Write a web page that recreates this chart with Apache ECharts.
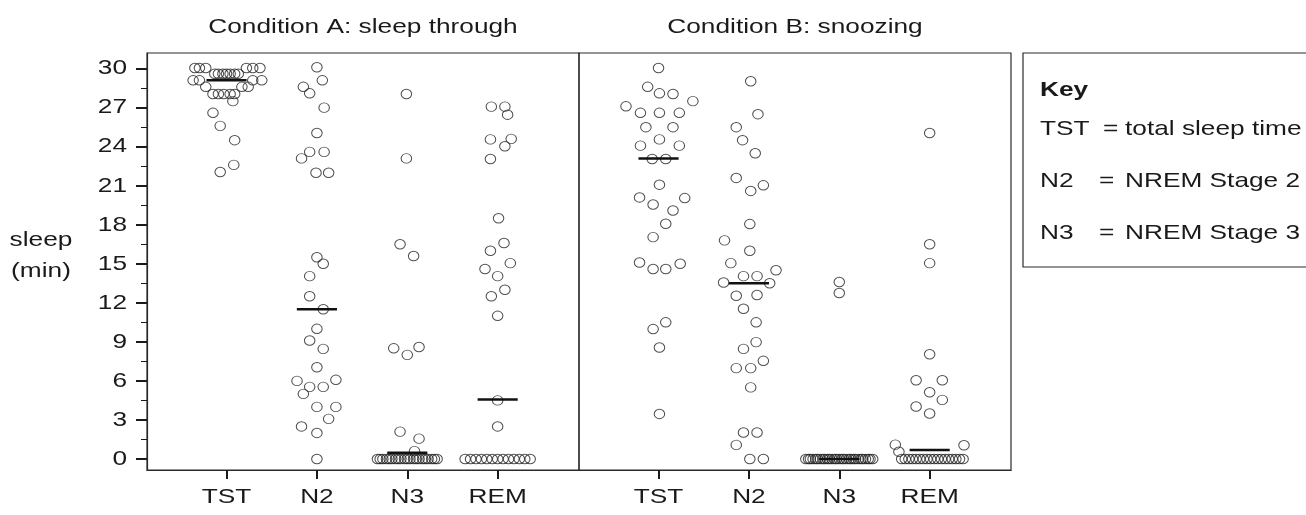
<!DOCTYPE html>
<html>
<head>
<meta charset="utf-8">
<script src="https://cdn.jsdelivr.net/npm/echarts@6/dist/echarts.min.js"></script>
<style>
html,body{margin:0;padding:0;background:#fff;}
#chart{width:1306px;height:515px;}
</style>
</head>
<body>
<div id="chart"></div>
<script>
// ---------------- DATA ----------------
const categories = ['TST', 'N2', 'N3', 'REM'];
const panelTitles = ['Condition A: sleep through', 'Condition B: snoozing'];
const yMajorTicks = [0, 3, 6, 9, 12, 15, 18, 21, 24, 27, 30];
const yMinorTicks = [1.5, 4.5, 7.5, 10.5, 13.5, 16.5, 19.5, 22.5, 25.5, 28.5];
const yAxisName = ['sleep', '(min)'];
const keyTitle = 'Key';
const keyAbbr = ['TST', 'N2', 'N3'];
const keyMeaning = ['total sleep time', 'NREM Stage 2', 'NREM Stage 3'];

// Condition A (sleep through): values (min) and horizontal jitter (category units)
const aTST = [30.05, 30.05, 30.05, 30.05, 30.05, 30.05,
  29.6, 29.6, 29.6, 29.6, 29.6, 29.6, 29.6,
  29.1, 29.1, 29.1, 29.1,
  28.6, 28.6, 28.6,
  28.05, 28.05, 28.05, 28.05, 28.05,
  27.5, 26.6, 25.6, 24.5, 22.6, 22.05];
const aTSTJit = [-0.35, -0.30, -0.23, 0.22, 0.29, 0.37,
  -0.13, -0.09, -0.04, 0, 0.04, 0.09, 0.13,
  -0.37, -0.30, 0.29, 0.39,
  -0.23, 0.17, 0.24,
  -0.15, -0.09, -0.03, 0.04, 0.09,
  0.07, -0.15, -0.07, 0.09, 0.08, -0.07];

const aN2 = [30.1, 29.1, 28.6, 28.1, 27.0, 25.05, 23.6, 23.6, 23.1, 22.0, 22.0,
  15.5, 15.0, 14.05, 12.5, 11.5, 10.0, 9.1, 8.46, 7.05, 6.0, 6.08, 5.54, 5.54,
  5.0, 4.0, 4.0, 3.08, 2.5, 2.0, 0];
const aN2Jit = [0, 0.06, -0.15, -0.08, 0.08, 0, -0.08, 0.08, -0.17, -0.01, 0.13,
  0, 0.07, -0.08, -0.08, 0.07, 0, -0.08, 0.07, 0, -0.22, 0.21, -0.08, 0.07,
  -0.15, 0, 0.21, 0.13, -0.17, 0, 0];

const aN3 = [28.05, 23.1, 16.5, 15.6, 8.5, 8.0, 8.6, 2.1, 1.56, 0.6,
  0, 0, 0, 0, 0, 0, 0, 0, 0, 0, 0, 0, 0, 0, 0, 0, 0, 0, 0, 0, 0];
const aN3Jit = [-0.01, -0.01, -0.08, 0.07, -0.15, 0, 0.13, -0.08, 0.13, 0.08,
  -0.33, -0.30, -0.27, -0.23, -0.20, -0.17, -0.13, -0.10, -0.07, -0.03, 0,
  0.03, 0.07, 0.10, 0.13, 0.17, 0.20, 0.23, 0.27, 0.30, 0.33];

const aREM = [27.08, 27.08, 26.46, 24.56, 24.6, 24.03, 23.05, 18.5, 16.6, 16.0,
  15.05, 14.6, 14.05, 13.0, 12.5, 11.0, 4.5, 2.5,
  0, 0, 0, 0, 0, 0, 0, 0, 0, 0, 0, 0, 0];
const aREMJit = [-0.07, 0.08, 0.11, -0.08, 0.15, 0.08, -0.08, 0.01, 0.07, -0.08,
  0.14, -0.14, 0, 0.08, -0.07, 0, 0, 0,
  -0.36, -0.30, -0.24, -0.18, -0.12, -0.06, 0, 0.06, 0.12, 0.18, 0.24, 0.30, 0.36];

const aMedians = [29.1, 11.5, 0.48, 4.56];

// Condition B (snoozing)
const bTST = [30.05, 28.6, 28.1, 28.05, 27.5, 27.1, 26.6, 26.6, 26.6, 25.5, 25.5,
  24.56, 24.08, 24.08, 23.05, 23.05, 21.08, 20.1, 19.56, 20.05, 19.1, 18.08,
  17.05, 15.1, 14.6, 14.6, 15.0, 9.98, 10.5, 8.56, 3.46];
const bTSTJit = [0, -0.12, 0.01, 0.16, 0.38, -0.36, -0.20, 0.01, 0.23, -0.14, 0.16,
  0.01, -0.20, 0.23, -0.07, 0.08, 0.01, -0.21, -0.06, 0.29, 0.16, 0.08,
  -0.06, -0.21, -0.06, 0.08, 0.24, -0.06, 0.08, 0.01, 0.01];

const bN2 = [29.03, 26.5, 25.5, 24.5, 23.5, 21.6, 21.03, 20.6, 18.05, 16.8, 16.0,
  15.05, 14.5, 14.05, 14.05, 13.56, 13.5, 12.54, 12.6, 11.54, 10.5, 8.98, 8.46,
  7.54, 6.98, 6.98, 5.5, 2.03, 2.03, 1.08, 0, 0];
const bN2Jit = [0.02, 0.10, -0.14, -0.07, 0.07, -0.14, 0.16, 0.02, 0.01, -0.27, 0.01,
  -0.20, 0.30, -0.06, 0.09, -0.28, 0.23, -0.14, 0.09, -0.06, 0.08, 0.08, -0.06,
  0.16, -0.14, 0.02, 0.02, -0.06, 0.09, -0.14, 0.01, 0.16];

const bN3 = [13.6, 12.75,
  0, 0, 0, 0, 0, 0, 0, 0, 0, 0, 0, 0, 0, 0, 0, 0, 0, 0, 0, 0, 0, 0, 0, 0, 0, 0, 0, 0, 0];
const bN3Jit = [0, 0,
  -0.37, -0.34, -0.32, -0.29, -0.26, -0.24, -0.21, -0.18, -0.16, -0.13, -0.11, -0.08,
  -0.05, -0.03, 0, 0.03, 0.05, 0.08, 0.11, 0.13, 0.16, 0.18, 0.21, 0.24, 0.26, 0.29,
  0.32, 0.34, 0.37];

const bREM = [25.05, 16.5, 15.05, 8.05, 6.05, 6.05, 5.13, 4.54, 4.03, 3.49, 1.1, 0.56, 1.05,
  0, 0, 0, 0, 0, 0, 0, 0, 0, 0, 0, 0, 0, 0, 0, 0, 0, 0];
const bREMJit = [0, 0, 0, 0, -0.15, 0.14, 0, 0.14, -0.15, 0, -0.38, -0.34, 0.38,
  -0.31, -0.27, -0.23, -0.19, -0.15, -0.11, -0.07, -0.03, 0.01, 0.05, 0.09, 0.13,
  0.17, 0.21, 0.25, 0.29, 0.33, 0.37];

const bMedians = [23.1, 13.5, 0, 0.69];

// ---------------- BUILD ----------------
const FONT = "'Liberation Sans', Arial, sans-serif";
const FS = 21;          // font size
const SX = 1.25;        // horizontal text stretch seen in the reference
const TXT = '#1a1a1a';
const LINE = '#2a2a2a';
const X_MIN = 0.12, X_MAX = 4.9, Y_MIN = -0.85, Y_MAX = 31.2;

function buildPoints(valueSets, jitSets) {
  const pts = [];
  valueSets.forEach((vals, ci) => {
    vals.forEach((v, k) => pts.push([ci + 1 + jitSets[ci][k], v]));
  });
  return pts;
}
const ptsA = buildPoints([aTST, aN2, aN3, aREM], [aTSTJit, aN2Jit, aN3Jit, aREMJit]);
const ptsB = buildPoints([bTST, bN2, bN3, bREM], [bTSTJit, bN2Jit, bN3Jit, bREMJit]);
const medA = aMedians.map((m, i) => [i + 1, m]);
const medB = bMedians.map((m, i) => [i + 1, m]);
const catPositions = categories.map((c, i) => i + 1);

function xAxisFor(gi) {
  return {
    type: 'value', gridIndex: gi, min: X_MIN, max: X_MAX,
    axisLine: { show: true, onZero: false, lineStyle: { color: LINE, width: 1.2 } },
    axisTick: { show: true, customValues: catPositions, length: 9, inside: false,
      lineStyle: { color: TXT, width: 2 } },
    axisLabel: { show: false, customValues: catPositions,
      formatter: v => categories[Math.round(v) - 1] || '' },
    splitLine: { show: false }
  };
}

function medianRender(params, api) {
  const x = api.value(0), y = api.value(1);
  const p1 = api.coord([x - 0.222, y]);
  const p2 = api.coord([x + 0.222, y]);
  return { type: 'line', shape: { x1: p1[0], y1: p1[1], x2: p2[0], y2: p2[1] },
    style: { stroke: '#111', lineWidth: 2.5 } };
}

const scatterStyle = { color: 'rgba(0,0,0,0)', borderColor: '#222', borderWidth: 1 };

function txt(x, y, text, align, bold) {
  return { type: 'text', x: x, y: y, scaleX: SX,
    style: { text: text, font: (bold ? 'bold ' : '') + FS + 'px ' + FONT, fill: TXT,
      textAlign: align, textVerticalAlign: 'middle' } };
}

const option = {
  animation: false,
  backgroundColor: '#fff',
  grid: [
    { left: 147, top: 53, width: 432, height: 417, show: true, borderColor: LINE, borderWidth: 1.2, backgroundColor: 'transparent' },
    { left: 579, top: 53, width: 432, height: 417, show: true, borderColor: LINE, borderWidth: 1.2, backgroundColor: 'transparent' }
  ],
  xAxis: [xAxisFor(0), xAxisFor(1)],
  yAxis: [
    { type: 'value', gridIndex: 0, min: Y_MIN, max: Y_MAX, position: 'left',
      axisLine: { show: true, onZero: false, lineStyle: { color: LINE, width: 1.2 } },
      axisTick: { show: true, customValues: yMajorTicks, length: 11, lineStyle: { color: TXT, width: 2 } },
      axisLabel: { show: false, customValues: yMajorTicks },
      splitLine: { show: false } },
    { type: 'value', gridIndex: 0, min: Y_MIN, max: Y_MAX, position: 'left', offset: 0,
      axisLine: { show: false, onZero: false },
      axisTick: { show: true, customValues: yMinorTicks, length: 6, lineStyle: { color: TXT, width: 1 } },
      axisLabel: { show: false },
      splitLine: { show: false } },
    { type: 'value', gridIndex: 1, min: Y_MIN, max: Y_MAX, position: 'left',
      axisLine: { show: false, onZero: false }, axisTick: { show: false }, axisLabel: { show: false },
      splitLine: { show: false } }
  ],
  series: [
    { type: 'scatter', xAxisIndex: 0, yAxisIndex: 0, data: ptsA, symbol: 'circle', symbolSize: [10.5, 9.5], itemStyle: scatterStyle, z: 3 },
    { type: 'scatter', xAxisIndex: 1, yAxisIndex: 2, data: ptsB, symbol: 'circle', symbolSize: [10.5, 9.5], itemStyle: scatterStyle, z: 3 },
    { type: 'custom', xAxisIndex: 0, yAxisIndex: 0, data: medA, renderItem: medianRender, z: 4 },
    { type: 'custom', xAxisIndex: 1, yAxisIndex: 2, data: medB, renderItem: medianRender, z: 4 }
  ]
};

const chart = echarts.init(document.getElementById('chart'), null, { renderer: 'canvas' });
chart.setOption(option);

// Texts (tick labels placed through the axes' own scales)
const graphics = [
  txt(363, 27, panelTitles[0], 'center'),
  txt(795, 27, panelTitles[1], 'center'),
  txt(41, 240, yAxisName[0], 'center'),
  txt(41, 271, yAxisName[1], 'center'),
  { type: 'rect', shape: { x: 1023, y: 53, width: 320, height: 214 }, style: { fill: 'transparent', stroke: LINE, lineWidth: 1.2 } },
  txt(1040, 90, keyTitle, 'left', true),
  txt(1040, 129, keyAbbr[0], 'left'), txt(1103, 129, '=', 'left'), txt(1125, 129, keyMeaning[0], 'left'),
  txt(1040, 181, keyAbbr[1], 'left'), txt(1099, 181, '=', 'left'), txt(1125, 181, keyMeaning[1], 'left'),
  txt(1040, 233, keyAbbr[2], 'left'), txt(1099, 233, '=', 'left'), txt(1125, 233, keyMeaning[2], 'left')
];
yMajorTicks.forEach(v => {
  const py = chart.convertToPixel({ yAxisIndex: 0 }, v);
  graphics.push(txt(127, py, String(v), 'right'));
});
[0, 1].forEach(gi => {
  const axisBottom = chart.convertToPixel({ yAxisIndex: gi === 0 ? 0 : 2 }, Y_MIN);
  catPositions.forEach((c, i) => {
    const px = chart.convertToPixel({ xAxisIndex: gi }, c);
    graphics.push(txt(px, axisBottom + 27, categories[i], 'center'));
  });
});
chart.setOption({ graphic: graphics });
</script>
</body>
</html>
